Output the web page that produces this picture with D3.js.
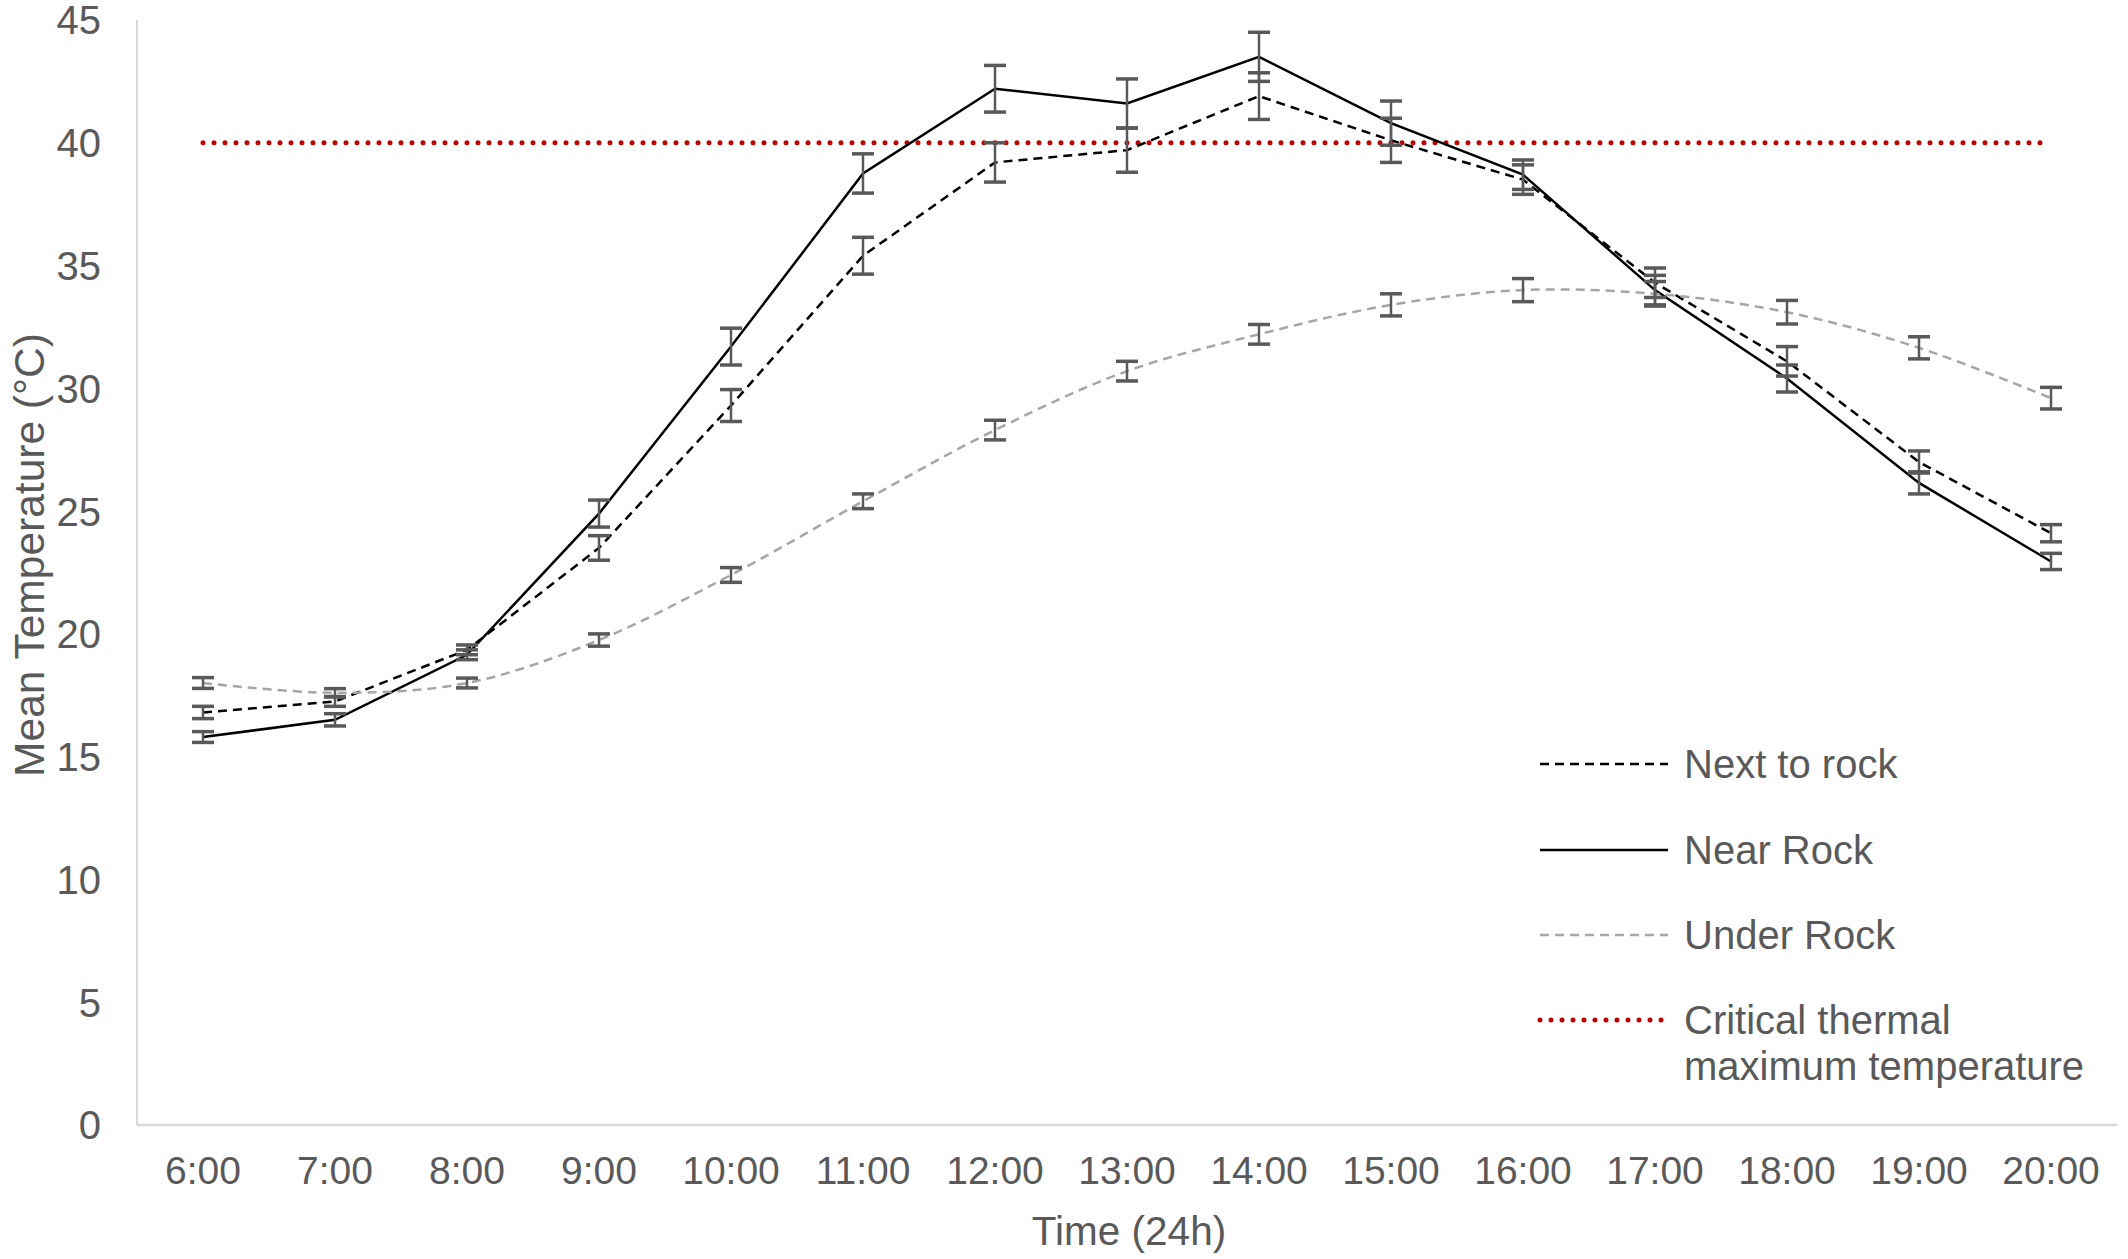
<!DOCTYPE html>
<html>
<head>
<meta charset="utf-8">
<script src="https://cdn.jsdelivr.net/npm/d3@7"></script>
<style>
  body { margin: 0; background: #fff; }
  text { font-family: "Liberation Sans", Arial, sans-serif; fill: #595959; }
</style>
</head>
<body>
<svg id="chart" width="2128" height="1259"></svg>
<script>
// data
var times = ['6:00', '7:00', '8:00', '9:00', '10:00', '11:00', '12:00', '13:00',
  '14:00', '15:00', '16:00', '17:00', '18:00', '19:00', '20:00'];

var nextToRock = [16.8, 17.25, 19.35, 23.5, 29.3, 35.4, 39.2, 39.7, 41.9, 40.1, 38.5, 34.3, 31.1, 27.0, 24.1];
var nextToRockErr = [0.25, 0.2, 0.2, 0.5, 0.65, 0.75, 0.8, 0.9, 0.95, 0.9, 0.6, 0.6, 0.6, 0.45, 0.35];

var nearRock = [15.8, 16.5, 19.15, 24.9, 31.7, 38.75, 42.2, 41.6, 43.5, 40.8, 38.7, 34.0, 30.4, 26.15, 22.95];
var nearRockErr = [0.22, 0.25, 0.2, 0.55, 0.75, 0.8, 0.95, 1.0, 1.0, 0.9, 0.6, 0.6, 0.55, 0.45, 0.33];

var underRock = [18.0, 17.6, 18.0, 19.75, 22.4, 25.4, 28.3, 30.7, 32.2, 33.4, 34.0, 33.85, 33.1, 31.65, 29.6];
var underRockErr = [0.22, 0.17, 0.2, 0.25, 0.3, 0.3, 0.4, 0.4, 0.4, 0.45, 0.47, 0.5, 0.48, 0.45, 0.44];

var ctMax = 40;
var yTicks = [0, 5, 10, 15, 20, 25, 30, 35, 40, 45];

var svg = d3.select('#chart');

var x = d3.scalePoint()
  .domain(times)
  .range([137, 2117])
  .padding(0.5);

var y = d3.scaleLinear()
  .domain([0, 45])
  .range([1125, 20]);

// axes lines
svg.append('line')
  .attr('x1', 137).attr('x2', 137)
  .attr('y1', y(45)).attr('y2', y(0))
  .attr('stroke', '#d9d9d9').attr('stroke-width', 2);

svg.append('line')
  .attr('x1', 137).attr('x2', 2117)
  .attr('y1', y(0)).attr('y2', y(0))
  .attr('stroke', '#d9d9d9').attr('stroke-width', 2.5);

// tick labels
svg.selectAll('.ytick')
  .data(yTicks)
  .enter().append('text')
  .attr('class', 'ytick')
  .attr('x', 101)
  .attr('y', function (d) { return y(d); })
  .attr('dy', '0.36em')
  .attr('text-anchor', 'end')
  .attr('font-size', '40px')
  .text(function (d) { return d; });

svg.selectAll('.xtick')
  .data(times)
  .enter().append('text')
  .attr('class', 'xtick')
  .attr('x', function (d) { return x(d); })
  .attr('y', 1184)
  .attr('text-anchor', 'middle')
  .attr('font-size', '39px')
  .text(function (d) { return d; });

// axis titles
svg.append('text')
  .attr('x', 1129)
  .attr('y', 1245)
  .attr('text-anchor', 'middle')
  .attr('font-size', '40.5px')
  .text('Time (24h)');

svg.append('text')
  .attr('transform', 'translate(44,555) rotate(-90)')
  .attr('text-anchor', 'middle')
  .attr('font-size', '42.5px')
  .text('Mean Temperature (°C)');

// critical thermal maximum
svg.append('line')
  .attr('x1', x(times[0])).attr('x2', x(times[times.length - 1]))
  .attr('y1', y(ctMax)).attr('y2', y(ctMax))
  .attr('stroke', '#c00000')
  .attr('stroke-width', 5)
  .attr('stroke-linecap', 'round')
  .attr('stroke-dasharray', '0 11');

var series = [
  { name: 'Next to rock', vals: nextToRock, err: nextToRockErr, color: '#000', dash: '9,6', width: 2.5, curve: d3.curveLinear },
  { name: 'Near Rock', vals: nearRock, err: nearRockErr, color: '#000', dash: null, width: 2.5, curve: d3.curveLinear },
  { name: 'Under Rock', vals: underRock, err: underRockErr, color: '#a6a6a6', dash: '9,6', width: 2.5, curve: d3.curveCatmullRom.alpha(0.5) }
];

series.forEach(function (s) {
  var line = d3.line()
    .x(function (d, i) { return x(times[i]); })
    .y(function (d) { return y(d); })
    .curve(s.curve);
  svg.append('path')
    .attr('d', line(s.vals))
    .attr('fill', 'none')
    .attr('stroke', s.color)
    .attr('stroke-width', s.width)
    .attr('stroke-dasharray', s.dash);
});

// error bars
series.forEach(function (s) {
  var g = svg.append('g')
    .attr('stroke', '#595959')
    .attr('stroke-width', 3.5);
  s.vals.forEach(function (v, i) {
    var cx = x(times[i]);
    var lo = y(v - s.err[i]);
    var hi = y(v + s.err[i]);
    g.append('line').attr('x1', cx).attr('x2', cx).attr('y1', lo).attr('y2', hi).attr('stroke-width', 2.5);
    g.append('line').attr('x1', cx - 11).attr('x2', cx + 11).attr('y1', lo).attr('y2', lo);
    g.append('line').attr('x1', cx - 11).attr('x2', cx + 11).attr('y1', hi).attr('y2', hi);
  });
});

// legend
var legendItems = series.concat([{ name: 'Critical thermal', name2: 'maximum temperature', color: '#c00000', red: true }]);
var legendY = [764, 850, 935, 1020];

legendItems.forEach(function (s, i) {
  var ly = legendY[i];
  var l = svg.append('line')
    .attr('x1', 1540).attr('x2', 1668)
    .attr('y1', ly).attr('y2', ly)
    .attr('stroke', s.color);
  if (s.red) {
    l.attr('stroke-width', 5).attr('stroke-linecap', 'round').attr('stroke-dasharray', '0 11');
  } else {
    l.attr('stroke-width', s.width).attr('stroke-dasharray', s.dash);
  }
  svg.append('text')
    .attr('x', 1684)
    .attr('y', ly)
    .attr('dy', '0.36em')
    .attr('font-size', '40px')
    .text(s.name);
  if (s.name2) {
    svg.append('text')
      .attr('x', 1684)
      .attr('y', ly + 46)
      .attr('dy', '0.36em')
      .attr('font-size', '40px')
      .text(s.name2);
  }
});
</script>
</body>
</html>
